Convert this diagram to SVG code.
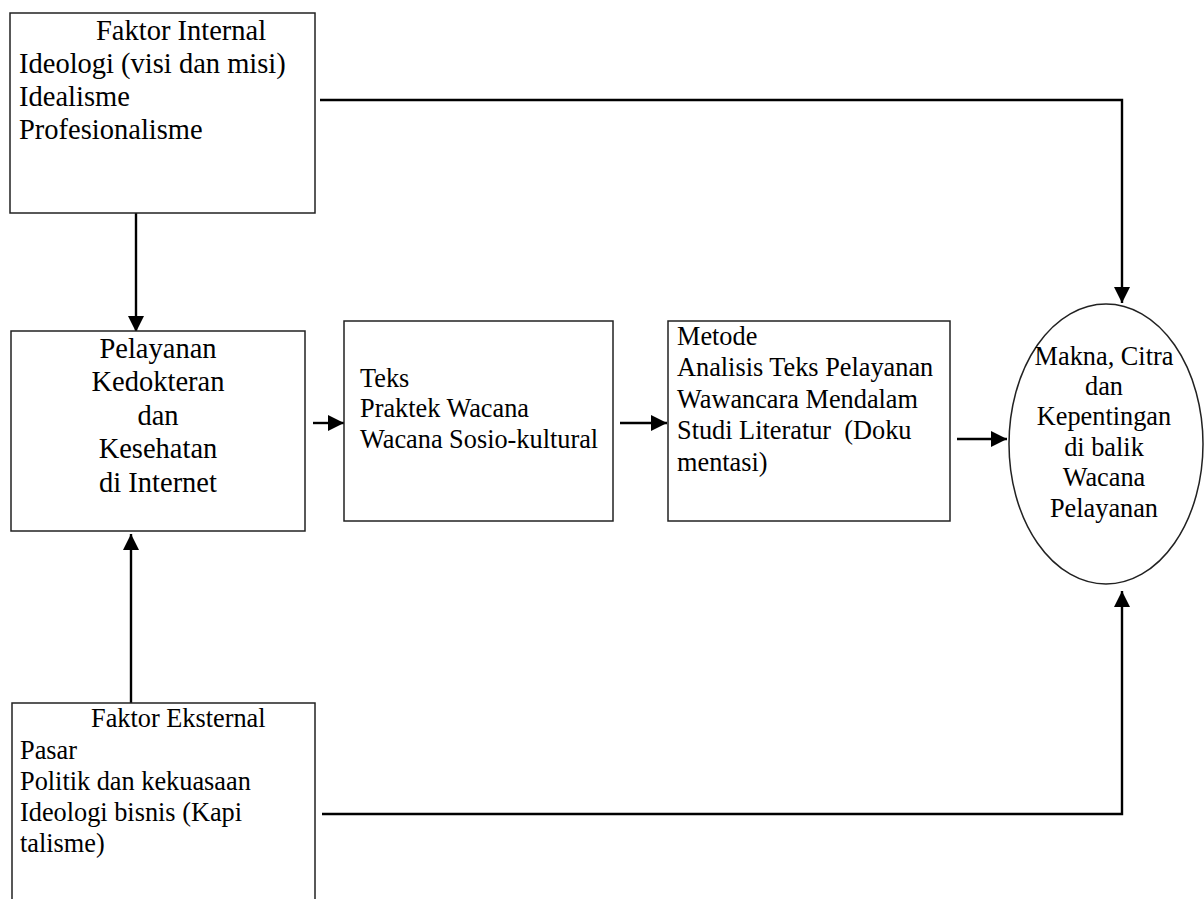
<svg xmlns="http://www.w3.org/2000/svg" width="1204" height="899" viewBox="0 0 1204 899">
<style>
.box{fill:#fff;stroke:#222;stroke-width:1.5}
.t12{font-family:"Liberation Serif","Times New Roman",serif;font-size:28.5px;fill:#000}
.t11{font-family:"Liberation Serif","Times New Roman",serif;font-size:26.3px;fill:#000}
.mid{text-anchor:middle}
.conn{fill:none;stroke:#000;stroke-width:2.4}
</style>
<defs>
<marker id="ah" markerUnits="userSpaceOnUse" markerWidth="17" markerHeight="16" refX="16" refY="8" orient="auto">
<path d="M0,0 L16,8 L0,16 Z" fill="#000"/>
</marker>
</defs>
<rect width="1204" height="899" fill="#fff"/>
<g id="connectors">
<polyline class="conn" points="320,100 1122,100 1122,303" marker-end="url(#ah)"/>
<line class="conn" x1="136" y1="213" x2="136" y2="332" marker-end="url(#ah)"/>
<line class="conn" x1="131" y1="703" x2="131" y2="534" marker-end="url(#ah)"/>
<polyline class="conn" points="322,814 1122,814 1122,591" marker-end="url(#ah)"/>
<line class="conn" x1="313" y1="423" x2="344" y2="423" marker-end="url(#ah)"/>
<line class="conn" x1="620" y1="423" x2="667" y2="423" marker-end="url(#ah)"/>
<line class="conn" x1="957" y1="439" x2="1007" y2="439" marker-end="url(#ah)"/>
</g>
<g id="faktor-internal">
<rect class="box" x="10" y="13" width="305" height="200"/>
<text class="t12" x="96" y="40">Faktor Internal</text>
<text class="t12" x="19" y="73">Ideologi (visi dan misi)</text>
<text class="t12" x="19" y="106">Idealisme</text>
<text class="t12" x="19" y="139">Profesionalisme</text>
</g>
<g id="pelayanan">
<rect class="box" x="11" y="331" width="294" height="200"/>
<text class="t12 mid" x="158" y="358">Pelayanan</text>
<text class="t12 mid" x="158" y="391">Kedokteran</text>
<text class="t12 mid" x="158" y="425">dan</text>
<text class="t12 mid" x="158" y="458">Kesehatan</text>
<text class="t12 mid" x="158" y="492">di Internet</text>
</g>
<g id="teks">
<rect class="box" x="344" y="321" width="269" height="200"/>
<text class="t11" x="360" y="387">Teks</text>
<text class="t11" x="360" y="417">Praktek Wacana</text>
<text class="t11" x="360" y="448">Wacana Sosio-kultural</text>
</g>
<g id="metode">
<rect class="box" x="668" y="321" width="282" height="200"/>
<text class="t11" x="677" y="345">Metode</text>
<text class="t11" x="677" y="376">Analisis Teks Pelayanan</text>
<text class="t11" x="677" y="408">Wawancara Mendalam</text>
<text class="t11" x="677" y="439" style="white-space:pre">Studi Literatur  (Doku</text>
<text class="t11" x="677" y="471">mentasi)</text>
</g>
<g id="makna">
<ellipse class="box" cx="1106" cy="444" rx="97" ry="140"/>
<text class="t11 mid" x="1104" y="365">Makna, Citra</text>
<text class="t11 mid" x="1104" y="395">dan</text>
<text class="t11 mid" x="1104" y="425">Kepentingan</text>
<text class="t11 mid" x="1104" y="456">di balik</text>
<text class="t11 mid" x="1104" y="486">Wacana</text>
<text class="t11 mid" x="1104" y="517">Pelayanan</text>
</g>
<g id="faktor-eksternal">
<rect class="box" x="12" y="703" width="303" height="220"/>
<text class="t11" x="91" y="727">Faktor Eksternal</text>
<text class="t11" x="20" y="759">Pasar</text>
<text class="t11" x="20" y="790">Politik dan kekuasaan</text>
<text class="t11" x="20" y="821">Ideologi bisnis (Kapi</text>
<text class="t11" x="20" y="852">talisme)</text>
</g>
</svg>
